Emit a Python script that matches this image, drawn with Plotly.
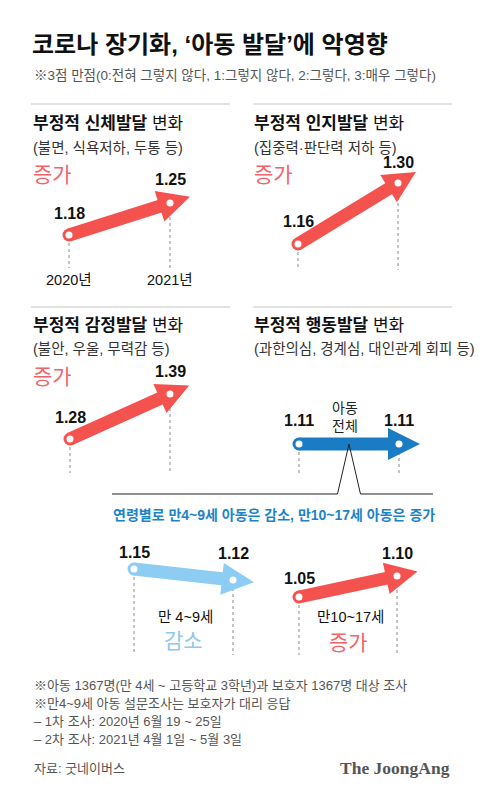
import math
import plotly.graph_objects as go

W, H = 480, 796

# ---------------- data ----------------
years = [2020, 2021]
year_labels = ["2020년", "2021년"]
physical = [1.18, 1.25]
cognitive = [1.16, 1.30]
emotional = [1.28, 1.39]
behavior_all = [1.11, 1.11]
behavior_4_9 = [1.15, 1.12]
behavior_10_17 = [1.05, 1.10]

# ---------------- style ----------------
RED = "#f4524f"
RED_TXT = "#f2646a"
BLUE = "#1a7dc4"
BLUE_TXT = "#1b84c8"
LBLUE = "#8ecdf3"
LBLUE_TXT = "#8fc8ec"
FONT = "Liberation Sans, Noto Sans CJK KR, sans-serif"
SERIF = "Liberation Serif, serif"

SHAFT = 13      # arrow shaft thickness (px)
HEAD = 32       # arrow head marker size
TIP_AHEAD = 21  # tip distance beyond the 2021 point (px)

# panel placement: pixel x of the two years, pixel y anchor of first value, px per unit
panels = [
    dict(values=physical, color=RED, px=(69, 170), py0=235, ppu=457, base=268, shift=(22, 24)),
    dict(values=cognitive, color=RED, px=(298, 398), py0=244, ppu=436, base=270, shift=(23, 20)),
    dict(values=emotional, color=RED, px=(70, 170), py0=439, ppu=409, base=473, shift=(22, 23)),
    dict(values=behavior_all, color=BLUE, px=(299, 399), py0=444, ppu=400, base=473, shift=(24, 24)),
    dict(values=behavior_4_9, color=LBLUE, px=(134, 233), py0=569, ppu=367, base=655, shift=(17, 27)),
    dict(values=behavior_10_17, color=RED, px=(299, 397), py0=597, ppu=420, base=655, shift=(19, 23)),
]

fig = go.Figure()
annotations = []
shapes = []
layout_axes = {}


def ref(i):
    return ("x", "y") if i == 1 else (f"x{i}", f"y{i}")


for i, p in enumerate(panels, start=1):
    vals = p["values"]
    px0, px1 = p["px"]
    kx = px1 - px0
    x_lo = years[0] - px0 / kx
    x_hi = x_lo + W / kx
    ppu = p["ppu"]
    y_hi = vals[0] + p["py0"] / ppu
    y_lo = y_hi - H / ppu
    p.update(x_lo=x_lo, y_hi=y_hi, kx=kx)

    xr, yr = ref(i)
    xkey = "xaxis" if i == 1 else f"xaxis{i}"
    ykey = "yaxis" if i == 1 else f"yaxis{i}"
    layout_axes[xkey] = dict(domain=[0, 1], range=[x_lo, x_hi], visible=False, fixedrange=True, anchor=yr)
    layout_axes[ykey] = dict(domain=[0, 1], range=[y_lo, y_hi], visible=False, fixedrange=True, anchor=xr)

    to_px = lambda x, v: ((x - x_lo) * kx, (y_hi - v) * ppu)
    to_data = lambda X, Y: (x_lo + X / kx, y_hi - Y / ppu)

    (ax0, ay0), (ax1, ay1) = to_px(years[0], vals[0]), to_px(years[1], vals[1])
    dx, dy = ax1 - ax0, ay1 - ay0
    L = math.hypot(dx, dy)
    ux, uy = dx / L, dy / L
    tip_x, tip_y = to_data(ax1 + ux * TIP_AHEAD, ay1 + uy * TIP_AHEAD)
    theta = math.degrees(math.atan2(-dy, dx))
    angle = 90 - theta

    # dotted guide lines
    for yv, v in zip(years, vals):
        _, bottom = to_data(0, p["base"])
        _, top = to_data(0, to_px(yv, v)[1] + 8)
        shapes.append(dict(type="line", xref=xr, yref=yr, x0=yv, x1=yv, y0=top, y1=bottom,
                           line=dict(color="#8a8a8a", width=1, dash="dot"), layer="below"))

    # shaft
    fig.add_trace(go.Scatter(x=years, y=vals, mode="lines", xaxis=xr, yaxis=yr,
                             line=dict(color=p["color"], width=SHAFT), hoverinfo="skip"))
    # round start cap
    fig.add_trace(go.Scatter(x=[years[0]], y=[vals[0]], mode="markers", xaxis=xr, yaxis=yr,
                             marker=dict(color=p["color"], size=SHAFT, line=dict(width=0)), hoverinfo="skip"))
    # head
    fig.add_trace(go.Scatter(x=[tip_x], y=[tip_y], mode="markers", xaxis=xr, yaxis=yr,
                             marker=dict(symbol="arrow-up", color=p["color"], size=HEAD, angle=angle,
                                         line=dict(width=0)), hoverinfo="skip"))
    # white dots
    fig.add_trace(go.Scatter(x=years, y=vals, mode="markers", xaxis=xr, yaxis=yr,
                             marker=dict(color="white", size=7, line=dict(width=0)), hoverinfo="skip"))

    # value labels
    for yv, v, sh in zip(years, vals, p["shift"]):
        annotations.append(dict(x=yv, y=v, xref=xr, yref=yr, text=f"<b>{v:.2f}</b>", showarrow=False,
                                yshift=sh, xanchor="center", yanchor="middle",
                                font=dict(size=16, color="#111", family=FONT)))

# year labels under first panel
for yv, lab in zip(years, year_labels):
    annotations.append(dict(x=yv, y=1 - 280 / H, xref="x", yref="paper", text=lab, showarrow=False,
                            xanchor="center", yanchor="middle", font=dict(size=14.5, color="#111", family=FONT)))


def txt(x, y, text, size, color="#111", anchor="left", family=FONT):
    annotations.append(dict(x=x / W, y=1 - y / H, xref="paper", yref="paper", text=text, showarrow=False,
                            xanchor=anchor, yanchor="middle", font=dict(size=size, color=color, family=family)))


txt(30, 45, "<b>코로나 장기화, ‘아동 발달’에 악영향</b>", 24)
txt(32, 75, "※3점 만점(0:전혀 그렇지 않다, 1:그렇지 않다, 2:그렇다, 3:매우 그렇다)", 13.5, "#555")

txt(31, 123, "<b>부정적 신체발달</b> 변화", 17)
txt(31, 147.5, "(불면, 식욕저하, 두통 등)", 14.5, "#333")
txt(31, 174, "증가", 21, RED_TXT)

txt(252, 123, "<b>부정적 인지발달</b> 변화", 17)
txt(252, 147.5, "(집중력·판단력 저하 등)", 14.5, "#333")
txt(252, 174, "증가", 21, RED_TXT)

txt(31, 325, "<b>부정적 감정발달</b> 변화", 17)
txt(31, 349, "(불안, 우울, 무력감 등)", 14.5, "#333")
txt(31, 376, "증가", 21, RED_TXT)

txt(252, 325, "<b>부정적 행동발달</b> 변화", 17)
txt(252, 349, "(과한의심, 경계심, 대인관계 회피 등)", 14.5, "#333")
txt(345, 416.5, "아동<br>전체", 14, "#222", anchor="center")

txt(274, 515, "<b>연령별로 만4~9세 아동은 감소, 만10~17세 아동은 증가</b>", 14, BLUE_TXT, anchor="center")
txt(185, 617, "만 4~9세", 14.5, "#111", anchor="center")
txt(183, 640, "감소", 21, LBLUE_TXT, anchor="center")
txt(350, 617, "만10~17세", 14.5, "#111", anchor="center")
txt(348, 642, "증가", 21, RED_TXT, anchor="center")

notes = [
    "※아동 1367명(만 4세 ~ 고등학교 3학년)과 보호자 1367명 대상 조사",
    "※만4~9세 아동 설문조사는 보호자가 대리 응답",
    "– 1차 조사: 2020년 6월 19 ~ 25일",
    "– 2차 조사: 2021년 4월 1일 ~ 5월 3일",
]
for k, n in enumerate(notes):
    txt(32, 685 + 18 * k, n, 13, "#555")
txt(32, 768, "자료: 굿네이버스", 13, "#555")
txt(452, 768, "<b>The JoongAng</b>", 17.5, "#555", anchor="right", family=SERIF)

# divider lines
for (x0, x1, y) in [(31, 230, 104), (253, 452, 104), (31, 230, 307), (253, 452, 307)]:
    shapes.append(dict(type="line", xref="paper", yref="paper", x0=x0 / W, x1=x1 / W,
                       y0=1 - y / H, y1=1 - y / H, line=dict(color="#e2e2e2", width=2)))

# bracket connecting "아동 전체" to the age-group breakdown
p4 = panels[3]
apex_x = (sum(years) / 2 - p4["x_lo"]) * p4["kx"]
apex_y = (p4["y_hi"] - behavior_all[0]) * p4["ppu"]
by = 494
pts = [(112, by), (apex_x - 11.5, by), (apex_x, apex_y), (apex_x + 11.5, by), (433, by)]
path = "M" + " L".join(f"{x / W:.5f},{1 - y / H:.5f}" for x, y in pts)
shapes.append(dict(type="path", xref="paper", yref="paper", path=path,
                   line=dict(color="#222", width=1), layer="above"))

fig.update_layout(
    width=W, height=H, margin=dict(l=0, r=0, t=0, b=0),
    paper_bgcolor="white", plot_bgcolor="rgba(0,0,0,0)",
    showlegend=False, annotations=annotations, shapes=shapes,
    **layout_axes,
)

fig.write_html("out.html", config={"displayModeBar": False},
               post_script="document.body.style.margin='0';document.body.style.overflow='hidden';")
